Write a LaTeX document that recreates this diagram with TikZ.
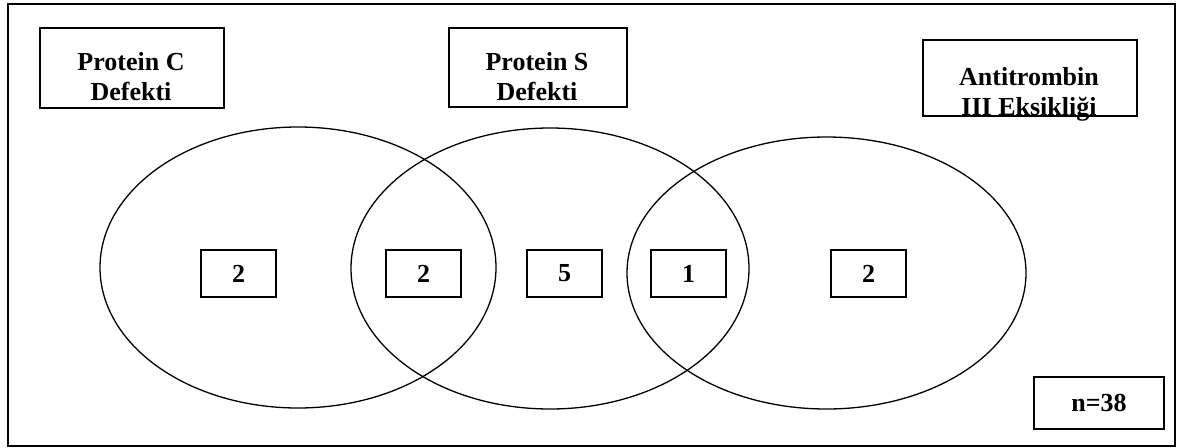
\documentclass[tikz,border=0pt]{standalone}
\usepackage{fontspec}
\setmainfont{Liberation Serif}
\begin{document}
\begin{tikzpicture}[x=1pt,y=-1pt,
  lbl/.style={font=\fontsize{26}{30}\selectfont\bfseries, align=center, inner sep=0pt},
  boxframe/.style={draw, line width=1.6pt, inner sep=0pt, rectangle},
  numbox/.style={draw, line width=1.6pt, inner sep=0pt, rectangle, minimum width=75pt, minimum height=47pt, font=\fontsize{26}{30}\selectfont\bfseries},
  circ/.style={line width=1.3pt}]
\useasboundingbox (0,0) rectangle (1180,447);
\node[draw, line width=1.4pt, minimum width=1167pt, minimum height=442pt, inner sep=0pt] (frame) at (591.5,225) {};
% heading boxes
\node[boxframe, minimum width=184pt, minimum height=80pt] (pcbox) at (132,68) {};
\node[lbl] (pc) at (131,77) {Protein C\\Defekti};
\node[boxframe, minimum width=178pt, minimum height=79pt] (psbox) at (538,67.5) {};
\node[lbl] (ps) at (537,77) {Protein S\\Defekti};
\node[boxframe, minimum width=214pt, minimum height=76pt] (atbox) at (1030,78) {};
\node[lbl] (at) at (1029,94) {Antitrombin\\III Eksikliği};
% ellipses
\draw[circ] (298,267.5) ellipse [x radius=198, y radius=140.5];
\draw[circ] (550,268.5) ellipse [x radius=199, y radius=140.5];
\draw[circ] (826.5,273) ellipse [x radius=199.5, y radius=136];
% numbers
\node[numbox] (n1) at (238.5,273.5) {2};
\node[numbox] (n2) at (423.5,273.5) {2};
\node[numbox] (n3) at (564.5,273.5) {5};
\node[numbox] (n4) at (688.5,273.5) {1};
\node[numbox] (n5) at (868.5,273.5) {2};
\node[numbox, minimum width=130pt, minimum height=52pt] (nn) at (1099,403) {n=38};
\end{tikzpicture}
\end{document}
